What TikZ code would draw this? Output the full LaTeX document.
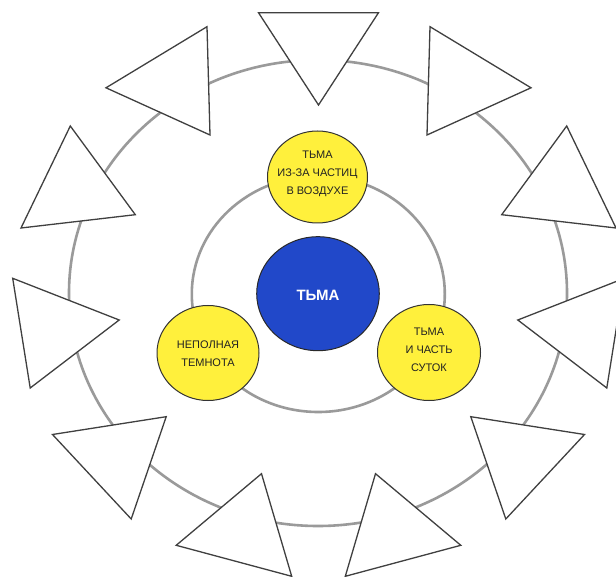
\documentclass[tikz,border=0pt]{standalone}
\usepackage{fontspec}
\setmainfont{Liberation Sans}
\definecolor{ringgray}{HTML}{9A9A9A}
\definecolor{triedge}{HTML}{404040}
\definecolor{sunyellow}{HTML}{FFF03C}
\definecolor{deepblue}{HTML}{2148C9}
\definecolor{rimdark}{HTML}{333333}
\definecolor{txtdark}{HTML}{222222}
\tikzset{
  ring/.style={draw=ringgray, line width=2.6pt},
  tri/.style={draw=triedge, fill=white, line width=1.3pt, line join=miter},
  yball/.style={draw=rimdark, fill=sunyellow, line width=1pt},
  bball/.style={draw=rimdark!80!black, fill=deepblue, line width=1pt},
  ytext/.style={align=center, text=txtdark, font=\fontsize{11}{17.8}\selectfont},
  btext/.style={align=center, text=white, font=\bfseries\fontsize{15}{18}\selectfont}
}
\begin{document}
\begin{tikzpicture}[x=1pt, y=-1pt]
\useasboundingbox (0,0) rectangle (616,577);
\clip (0,0) rectangle (616,577);
\fill[white] (0,0) rectangle (616,577);
% outer ring
\draw[ring] (318,293) ellipse [x radius=249, y radius=233];
% triangles
\draw[tri] (258.5,12.7) -- (378.5,12.7) -- (318.5,105) -- cycle;
\foreach \s/\o in {1/0, -1/637}{
  \draw[tri] (\o+\s*207,26.7) -- (\o+\s*106,87.8) -- (\o+\s*210,135) -- cycle;
  \draw[tri] (\o+\s*70.3,126) -- (\o+\s*21,228) -- (\o+\s*135.3,214.7) -- cycle;
  \draw[tri] (\o+\s*12.7,278.3) -- (\o+\s*119.2,320) -- (\o+\s*30.2,388) -- cycle;
  \draw[tri] (\o+\s*52.5,434.5) -- (\o+\s*166.2,416.7) -- (\o+\s*131.2,519) -- cycle;
  \draw[tri] (\o+\s*176.2,545.3) -- (\o+\s*261.5,473.7) -- (\o+\s*291.7,576.3) -- cycle;
}
% inner ring
\draw[ring] (318.3,294) ellipse [x radius=126.5, y radius=118];
% centre
\draw[bball] (318,293.7) ellipse [x radius=61.3, y radius=57];
\node[btext] (core) at (318,295) {ТЬМА};
% yellow balls
\draw[yball] (317.5,177) ellipse [x radius=50, y radius=46];
\node[ytext] (air) at (317.5,174) {ТЬМА\\ИЗ-ЗА ЧАСТИЦ\\В ВОЗДУХЕ};
\draw[yball] (208,353) ellipse [x radius=51, y radius=47.5];
\node[ytext] (part) at (208,354) {НЕПОЛНАЯ\\ТЕМНОТА};
\draw[yball] (429,352.5) ellipse [x radius=51.5, y radius=48];
\node[ytext] (day) at (429,350) {ТЬМА\\И ЧАСТЬ\\СУТОК};
\end{tikzpicture}
\end{document}
